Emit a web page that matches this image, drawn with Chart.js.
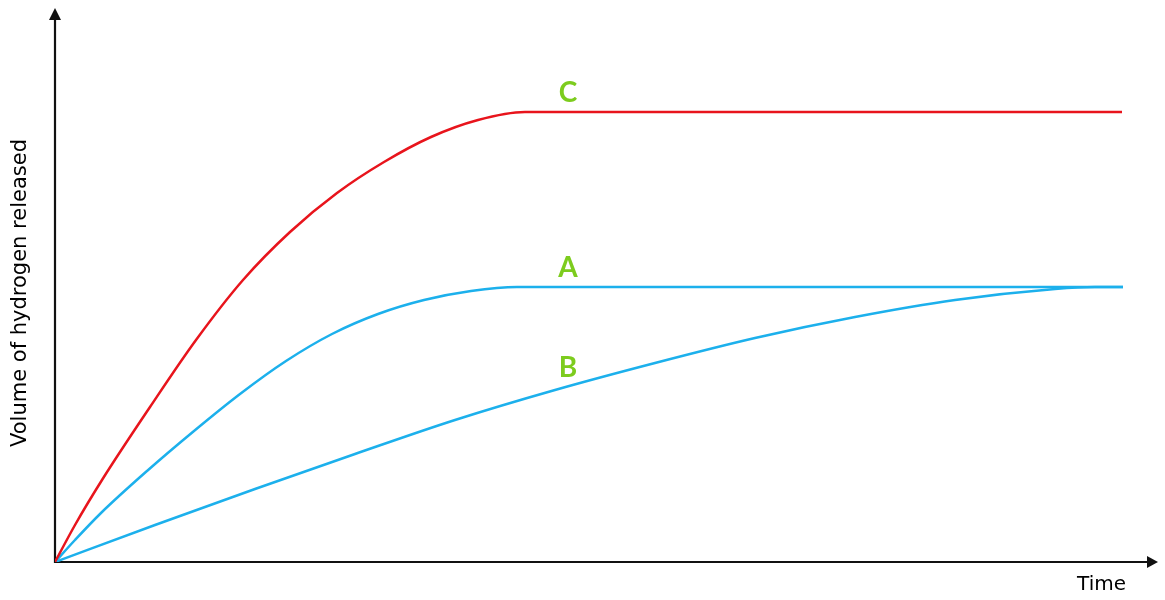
<!DOCTYPE html>
<html>
<head>
<meta charset="utf-8">
<script src="https://cdn.jsdelivr.net/npm/chart.js@4/dist/chart.umd.min.js"></script>
<style>
  body { margin: 0; background: #fff; }
  #wrap { width: 1165px; height: 600px; position: relative; }
</style>
</head>
<body>
<div id="wrap"><canvas id="hydrogen-chart"></canvas></div>
<script>
// values (time, volume) in arbitrary units
const timeC = [0, 20, 47, 95, 141, 188, 235, 282, 329, 376, 423, 470, 1067];
const volC  = [0, 37, 82, 155, 222, 282, 330, 369, 400, 425, 442, 450, 450];

const timeA = [0, 20, 46, 92, 139, 185, 231, 277, 323, 369, 416, 462, 1068];
const volA  = [0, 22, 49, 91, 131, 168, 201, 228, 248, 262, 271, 275, 275];

const timeB = [0, 100, 200, 300, 400, 500, 600, 700, 800, 900, 1000, 1040, 1068];
const volB  = [0, 37, 73, 108, 142, 172, 199, 224, 245, 262, 273, 275, 275];

const curveNames = ['C', 'A', 'B'];
const nameTime = [513, 513, 513];
const nameVol = [469, 294, 194];

const timeMax = 1103;
const volMax = 554;

const toPoints = (xs, ys) => xs.map((x, i) => ({ x: x, y: ys[i] }));

const axesPlugin = {
    id: 'axes',
    beforeDatasetsDraw(chart) {
        const { ctx, chartArea: a } = chart;
        ctx.save();
        ctx.strokeStyle = '#111';
        ctx.fillStyle = '#111';
        ctx.lineWidth = 2.2;
        ctx.beginPath();
        ctx.moveTo(a.left, a.top + 10);
        ctx.lineTo(a.left, a.bottom);
        ctx.lineTo(a.right - 10, a.bottom);
        ctx.stroke();
        // arrow heads
        ctx.beginPath();
        ctx.moveTo(a.left, a.top);
        ctx.lineTo(a.left - 6, a.top + 12);
        ctx.lineTo(a.left + 6, a.top + 12);
        ctx.closePath();
        ctx.fill();
        ctx.beginPath();
        ctx.moveTo(a.right, a.bottom);
        ctx.lineTo(a.right - 11, a.bottom - 6);
        ctx.lineTo(a.right - 11, a.bottom + 6);
        ctx.closePath();
        ctx.fill();

        ctx.fillStyle = '#000';
        ctx.font = '20px "DejaVu Sans"';
        ctx.textBaseline = 'middle';
        ctx.textAlign = 'right';
        ctx.fillText('Time', a.right - 32, a.bottom + 23);
        ctx.font = '21px "DejaVu Sans"';
        ctx.translate(21, (a.top + a.bottom) / 2 + 8);
        ctx.rotate(-Math.PI / 2);
        ctx.textAlign = 'center';
        ctx.fillText('Volume of hydrogen released', 0, 0);
        ctx.restore();
    },
    afterDatasetsDraw(chart) {
        const { ctx, scales } = chart;
        ctx.save();
        ctx.fillStyle = '#7dcc1e';
        ctx.font = 'bold 28px Lato';
        ctx.textAlign = 'center';
        ctx.textBaseline = 'middle';
        curveNames.forEach((n, i) => {
            ctx.fillText(n, scales.x.getPixelForValue(nameTime[i]), scales.y.getPixelForValue(nameVol[i]));
        });
        ctx.restore();
    }
};

new Chart(document.getElementById('hydrogen-chart'), {
    type: 'line',
    data: {
        datasets: [{
            label: 'C',
            data: toPoints(timeC, volC),
            borderColor: '#e8141c',
        }, {
            label: 'A',
            data: toPoints(timeA, volA),
            borderColor: '#1cb0ec',
        }, {
            label: 'B',
            data: toPoints(timeB, volB),
            borderColor: '#1cb0ec',
        }]
    },
    options: {
        responsive: true,
        maintainAspectRatio: false,
        animation: false,
        layout: { padding: { left: 55, right: 7, top: 8, bottom: 38 } },
        elements: {
            point: { radius: 0 },
            line: { borderWidth: 2.5, cubicInterpolationMode: 'monotone', fill: false }
        },
        scales: {
            x: { type: 'linear', min: 0, max: timeMax, display: false },
            y: { type: 'linear', min: 0, max: volMax, display: false }
        },
        plugins: {
            legend: { display: false },
            tooltip: { enabled: false }
        }
    },
    plugins: [axesPlugin]
});
</script>
</body>
</html>
